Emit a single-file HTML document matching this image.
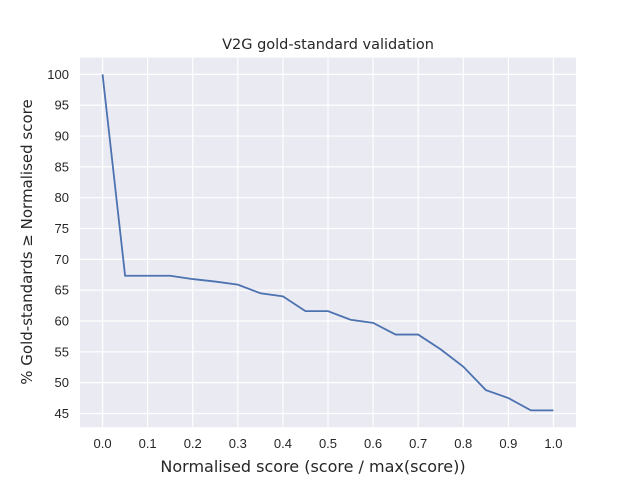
<!DOCTYPE html>
<html><head><meta charset="utf-8"><style>
body{margin:0;background:#fff;}
svg{display:block;font-family:"Liberation Sans","DejaVu Sans",sans-serif;}
.dv{font-family:"DejaVu Sans","Liberation Sans",sans-serif;}
</style></head><body>
<svg id="chart" width="640" height="480">
<rect x="0" y="0" width="640" height="480" fill="#fff"/>
<rect x="80" y="57.6" width="496" height="369.6" fill="#eaeaf2"/>
<g id="grid"></g>
<g id="ticks"></g>
<path id="series" fill="none" stroke="#4c72b0" stroke-width="1.8"/>
<text class="dv" x="328" y="49" text-anchor="middle" font-size="14.5" fill="#262626">V2G gold-standard validation</text>
<text class="dv" x="313" y="472" text-anchor="middle" font-size="16" fill="#262626">Normalised score (score / max(score))</text>
<text class="dv" transform="translate(32,242) rotate(-90)" text-anchor="middle" font-size="15" fill="#262626">% Gold-standards ≥ Normalised score</text>
</svg>
<script>
const xValues=[0,0.05,0.1,0.15,0.2,0.25,0.3,0.35,0.4,0.45,0.5,0.55,0.6,0.65,0.7,0.75,0.8,0.85,0.9,0.95,1.0];
const yValues=[100,67.34,67.34,67.34,66.8,66.4,65.9,64.5,64.0,61.6,61.6,60.2,59.7,57.8,57.8,55.4,52.6,48.8,47.5,45.5,45.5];
const xTicks=[0,0.1,0.2,0.3,0.4,0.5,0.6,0.7,0.8,0.9,1.0];
const xTickLabels=["0.0","0.1","0.2","0.3","0.4","0.5","0.6","0.7","0.8","0.9","1.0"];
const yTicks=[45,50,55,60,65,70,75,80,85,90,95,100];
const L=80,R=576,T=57.6,B=427.2;
const xmin=-0.05,xmax=1.05;
const ylo=Math.min(...yValues),yhi=Math.max(...yValues),pad=(yhi-ylo)*0.05;
const ymin=ylo-pad,ymax=yhi+pad;
const sx=v=>L+(v-xmin)/(xmax-xmin)*(R-L);
const sy=v=>B-(v-ymin)/(ymax-ymin)*(B-T);
const NS="http://www.w3.org/2000/svg";
const grid=document.getElementById('grid'),ticks=document.getElementById('ticks');
xTicks.forEach((t,i)=>{
 const l=document.createElementNS(NS,'line');
 l.setAttribute('x1',sx(t));l.setAttribute('x2',sx(t));l.setAttribute('y1',T);l.setAttribute('y2',B);
 l.setAttribute('stroke','#fff');l.setAttribute('stroke-width','1.2');
 
 
 grid.appendChild(l);
 const tx=document.createElementNS(NS,'text');
 tx.setAttribute('x',sx(t));tx.setAttribute('y',B+21);tx.setAttribute('text-anchor','middle');
 tx.setAttribute('font-size','13');tx.setAttribute('fill','#262626');
 tx.textContent=xTickLabels[i];
 
 
 ticks.appendChild(tx);
});
yTicks.forEach(t=>{
 if(sy(t)<T-0.5||sy(t)>B+0.5)return;
 const l=document.createElementNS(NS,'line');
 l.setAttribute('x1',L);l.setAttribute('x2',R);l.setAttribute('y1',sy(t));l.setAttribute('y2',sy(t));
 l.setAttribute('stroke','#fff');l.setAttribute('stroke-width','1.2');
 
 
 grid.appendChild(l);
 const tx=document.createElementNS(NS,'text');
 tx.setAttribute('x',L-11);tx.setAttribute('y',sy(t)+4.5);tx.setAttribute('text-anchor','end');
 tx.setAttribute('font-size','13');tx.setAttribute('fill','#262626');
 tx.textContent=String(t);
 
 
 ticks.appendChild(tx);
});
document.getElementById('series').setAttribute('d',xValues.map((x,i)=>(i?'L':'M')+sx(x).toFixed(2)+','+sy(yValues[i]).toFixed(2)).join(' '));
</script>
</body></html>
